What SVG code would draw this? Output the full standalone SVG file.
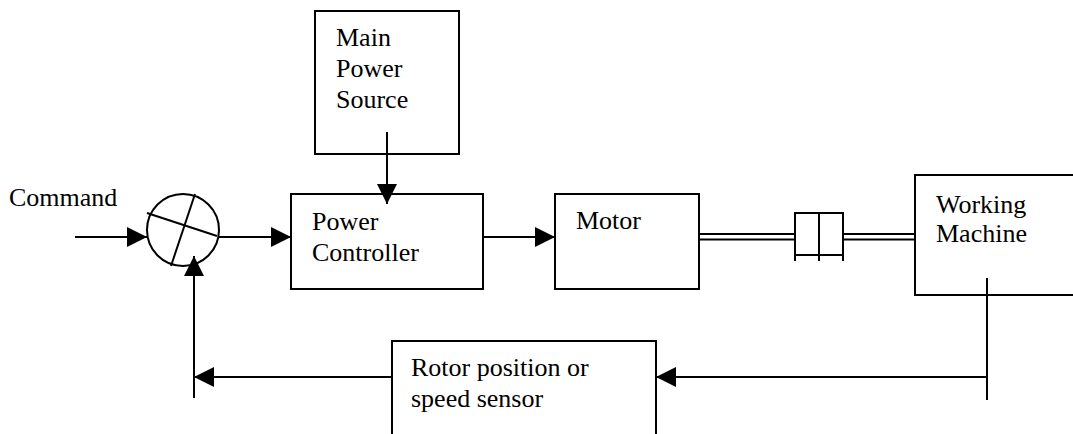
<svg xmlns="http://www.w3.org/2000/svg" width="1073" height="434" viewBox="0 0 1073 434">
<defs>
<marker id="ah" markerWidth="20" markerHeight="20" refX="20" refY="10" orient="auto" markerUnits="userSpaceOnUse">
<path d="M0,0 L20,10 L0,20 Z" fill="#000"/>
</marker>
</defs>
<style>
rect.box{fill:#fff;stroke:#000;stroke-width:2}
line{stroke:#000;stroke-width:2;fill:none}
.t{font-family:'Liberation Serif','Times New Roman','DejaVu Serif',serif;font-size:26px;fill:#000}
</style>
<rect width="1073" height="434" fill="#fff"/>
<g id="command-label">
<text class="t" font-family="Liberation Serif, serif" x="9" y="206">Command</text>
</g>
<g id="main-power-source">
<rect class="box" x="315" y="11" width="144" height="143"/>
<text class="t" font-family="Liberation Serif, serif" x="336" y="46">Main</text>
<text class="t" font-family="Liberation Serif, serif" x="336" y="77">Power</text>
<text class="t" font-family="Liberation Serif, serif" x="336" y="108">Source</text>
</g>
<g id="power-controller">
<rect class="box" x="291" y="194" width="192" height="95"/>
<text class="t" font-family="Liberation Serif, serif" x="312" y="230">Power</text>
<text class="t" font-family="Liberation Serif, serif" x="312" y="261">Controller</text>
</g>
<g id="motor">
<rect class="box" x="555" y="194" width="144" height="95"/>
<text class="t" font-family="Liberation Serif, serif" x="576" y="229">Motor</text>
</g>
<g id="working-machine">
<rect class="box" x="915" y="175" width="170" height="120"/>
<text class="t" font-family="Liberation Serif, serif" x="936" y="213">Working</text>
<text class="t" font-family="Liberation Serif, serif" x="936" y="242">Machine</text>
</g>
<g id="sensor">
<rect class="box" x="392" y="341" width="264" height="110"/>
<text class="t" font-family="Liberation Serif, serif" x="411" y="376">Rotor position or</text>
<text class="t" font-family="Liberation Serif, serif" x="411" y="407">speed sensor</text>
</g>
<g id="summing-junction">
<circle cx="183" cy="230" r="36" fill="#fff" stroke="#000" stroke-width="2"/>
<line x1="147" y1="213" x2="217" y2="236"/>
<line x1="195" y1="194" x2="171" y2="266"/>
</g>
<g id="coupling">
<rect x="795" y="213" width="48" height="42" fill="#fff" stroke="#000" stroke-width="2"/>
<line x1="819" y1="213" x2="819" y2="261"/>
<line x1="795" y1="255" x2="795" y2="261"/>
<line x1="843" y1="255" x2="843" y2="261"/>
</g>
<g id="connectors">
<line x1="75" y1="237" x2="147" y2="237" marker-end="url(#ah)"/>
<line x1="219" y1="237" x2="291" y2="237" marker-end="url(#ah)"/>
<line x1="387" y1="132" x2="387" y2="204" marker-end="url(#ah)"/>
<line x1="483" y1="237" x2="555" y2="237" marker-end="url(#ah)"/>
<line x1="699" y1="234" x2="795" y2="234"/>
<line x1="699" y1="239.5" x2="795" y2="239.5"/>
<line x1="843" y1="234" x2="915" y2="234"/>
<line x1="843" y1="239.5" x2="915" y2="239.5"/>
<line x1="987" y1="278" x2="987" y2="400"/>
<line x1="987" y1="377" x2="656" y2="377" marker-end="url(#ah)"/>
<line x1="392" y1="377" x2="194" y2="377" marker-end="url(#ah)"/>
<line x1="194" y1="377" x2="194" y2="398"/>
<line x1="194" y1="377" x2="194" y2="256" marker-end="url(#ah)"/>
</g>
</svg>
